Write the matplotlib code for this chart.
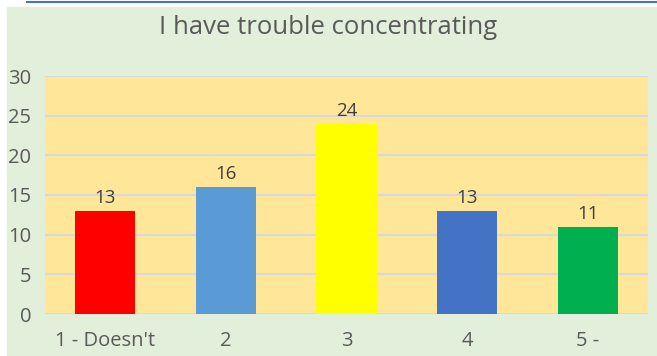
import matplotlib
matplotlib.use('Agg')
import matplotlib.pyplot as plt
from matplotlib.patches import Rectangle
from matplotlib.lines import Line2D

TITLE = 'I have trouble concentrating'
CATEGORIES = ["1 - Doesn't", '2', '3', '4', '5 -']
COUNTS = [13, 16, 24, 13, 11]
BAR_COLORS = ['#FF0000', '#5B9BD5', '#FFFF00', '#4472C4', '#00B050']
Y_TICKS = [0, 5, 10, 15, 20, 25, 30]

plt.rcParams['font.family'] = ['Open Sans', 'DejaVu Sans']

W, H = 657, 356
fig = plt.figure(figsize=(W / 100, H / 100), dpi=100)
fig.patch.set_facecolor('white')

# green chart area with a thin white margin on top/left, blue rule along the top
fig.patches.append(Rectangle((7 / W, 0), 1 - 7 / W, (H - 7) / H,
                             transform=fig.transFigure, color='#E2EFDA', zorder=-5))
fig.lines.append(Line2D([27 / W, 1], [1 - 1.5 / H, 1 - 1.5 / H],
                        transform=fig.transFigure, color='#4472C4', lw=1.5, zorder=-4))

ax = fig.add_axes([45 / W, (H - 314) / H, (648 - 45) / W, (314 - 76) / H])
ax.set_facecolor('#FFE699')
x = range(len(CATEGORIES))
bars = ax.bar(x, COUNTS, width=0.5, color=BAR_COLORS, zorder=3)
for b, v in zip(bars, COUNTS):
    ax.text(b.get_x() + b.get_width() / 2, v + 0.45, str(v), ha='center', va='bottom',
            fontsize=13.5, color='#404040', zorder=4)

ax.set_xlim(-0.5, len(CATEGORIES) - 0.5)
ax.set_ylim(0, 30)
ax.set_yticks(Y_TICKS)
ax.set_xticks(list(x))
ax.set_xticklabels(CATEGORIES)
ax.yaxis.grid(True, color='#D9D9D9', lw=1.5, zorder=1)
ax.set_axisbelow(True)
for s in ax.spines.values():
    s.set_visible(False)
ax.tick_params(axis='both', length=0, labelsize=14.5, colors='#595959')
ax.tick_params(axis='y', pad=10)
ax.tick_params(axis='x', pad=12)

fig.text(0.5, 1 - 28 / H, TITLE, ha='center', va='center', fontsize=18.5, color='#595959')

fig.savefig('out.png', dpi=100, facecolor=fig.get_facecolor())
